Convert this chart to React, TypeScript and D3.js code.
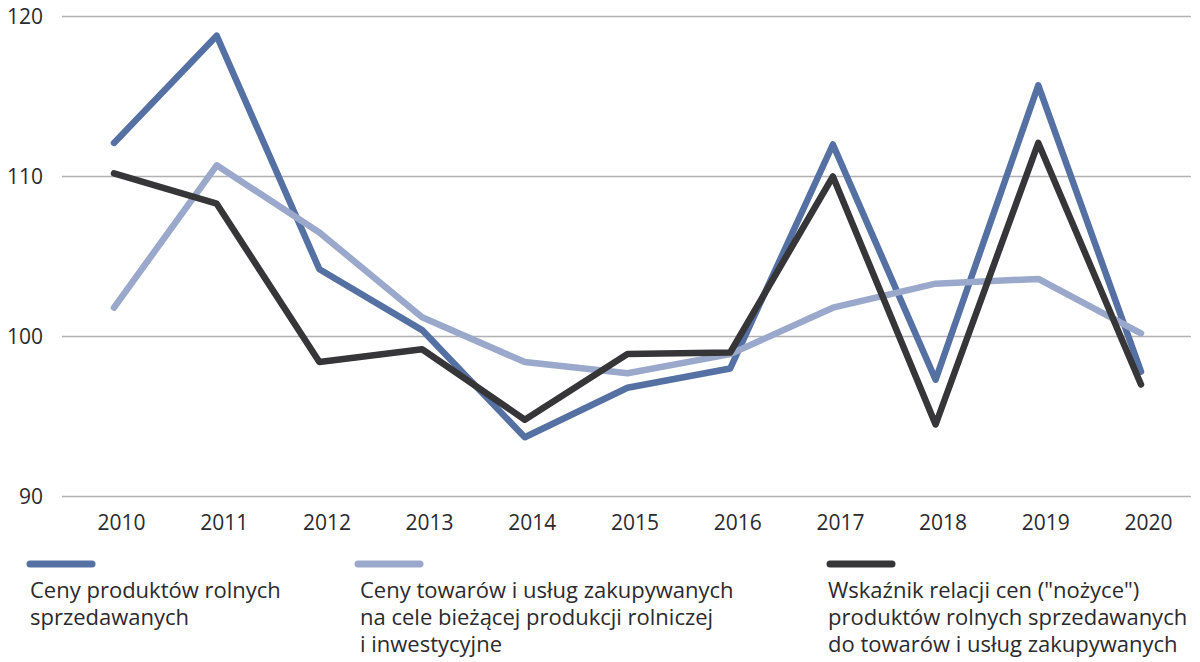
import React from "react";
import * as d3 from "d3";

const years = ["2010", "2011", "2012", "2013", "2014", "2015", "2016", "2017", "2018", "2019", "2020"];
const cenyProduktow = [112.1, 118.8, 104.2, 100.4, 93.7, 96.8, 98.0, 112.0, 97.3, 115.7, 97.8];
const cenyTowarow = [101.8, 110.7, 106.5, 101.2, 98.4, 97.7, 98.9, 101.8, 103.3, 103.6, 100.2];
const wskaznik = [110.2, 108.3, 98.4, 99.2, 94.8, 98.9, 99.0, 110.0, 94.5, 112.1, 97.0];
const yTicks = [90, 100, 110, 120];

const series = [
  { name: "Ceny produktów rolnych sprzedawanych", values: cenyProduktow, color: "#5570a2",
    lines: ["Ceny produktów rolnych", "sprzedawanych"], lx: 27, tx: 30 },
  { name: "Ceny towarów", values: cenyTowarow, color: "#9aa9cb",
    lines: ["Ceny towarów i usług zakupywanych", "na cele bieżącej produkcji rolniczej", "i inwestycyjne"], lx: 355, tx: 360 },
  { name: "Wskaźnik", values: wskaznik, color: "#363538",
    lines: ["Wskaźnik relacji cen (\"nożyce\")", "produktów rolnych sprzedawanych", "do towarów i usług zakupywanych"], lx: 827, tx: 828 },
];

const W = 1200;
const H = 662;
const font = "'Open Sans', sans-serif";
const textColor = "#2b2a2e";

export default function App() {
  const x = d3.scalePoint<string>().domain(years).range([114, 1141]);
  const y = d3.scaleLinear().domain([90, 120]).range([496.5, 16.5]);
  const line = (vals: number[]) =>
    d3.line<number>().x((_, i) => x(years[i]) as number).y((d) => y(d))(vals) || "";

  return (
    <svg width={W} height={H} style={{ position: "absolute", left: 0, top: 0, background: "#fff" }}>
      {yTicks.map((t) => (
        <g key={t}>
          <line x1={62} x2={1191} y1={y(t)} y2={y(t)} stroke="#b1b1b4" strokeWidth={1.5} />
          <text x={43} y={y(t)} dy="0.36em" textAnchor="end" fontFamily={font} fontSize={21} fill={textColor}>
            {t}
          </text>
        </g>
      ))}
      {years.map((yr) => (
        <text key={yr} x={(x(yr) as number) + 7.5} y={530} textAnchor="middle" fontFamily={font} fontSize={21} fill={textColor}>
          {yr}
        </text>
      ))}
      {series.map((s) => (
        <path key={s.name} d={line(s.values)} fill="none" stroke={s.color} strokeWidth={6.5}
          strokeLinejoin="round" strokeLinecap="round" />
      ))}
      {series.map((s) => (
        <g key={"leg" + s.name}>
          <line x1={s.lx + 3} x2={s.lx + 65} y1={564} y2={564} stroke={s.color} strokeWidth={7} strokeLinecap="round" />
          {s.lines.map((l, i) => (
            <text key={i} x={s.tx} y={598 + i * 27} fontFamily={font} fontSize={22} fill={textColor}>
              {l}
            </text>
          ))}
        </g>
      ))}
    </svg>
  );
}
